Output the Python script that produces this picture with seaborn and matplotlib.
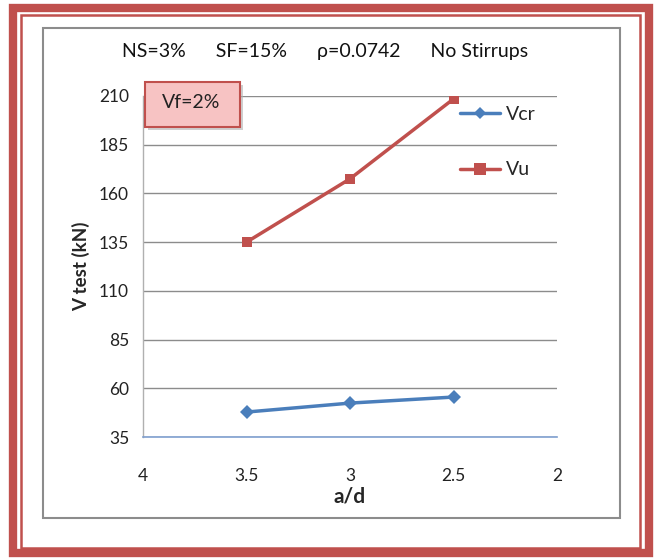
import numpy as np
import pandas as pd
import seaborn as sns
import matplotlib
matplotlib.use("Agg")
import matplotlib.pyplot as plt
from matplotlib.patches import Rectangle
from matplotlib.lines import Line2D

# ---- data ----
a_d = [3.5, 3.0, 2.5]
v_cr = [47.8, 52.4, 55.5]
v_u = [135.0, 167.5, 208.5]
series_names = ["Vcr", "Vu"]
y_ticks = [35, 60, 85, 110, 135, 160, 185, 210]
x_ticks = [4, 3.5, 3, 2.5, 2]
x_tick_labels = ["4", "3.5", "3", "2.5", "2"]
title_text = "NS=3%      SF=15%      \u03c1=0.0742      No Stirrups"
box_text = "Vf=2%"

df = pd.DataFrame({
    "a/d": a_d * 2,
    "V": v_cr + v_u,
    "series": [series_names[0]] * 3 + [series_names[1]] * 3,
})

sns.set_theme(style="white")
plt.rcParams["font.family"] = ["Lato", "DejaVu Sans"]

W, H = 657, 558
fig = plt.figure(figsize=(W / 100, H / 100), dpi=100)

def fx(px):
    return px / W

def fy(py):
    return 1 - py / H

red = "#C0504D"
blue = "#4A7EBB"

# decorative frames
fig.patches.append(Rectangle((fx(13), fy(553)), fx(649 - 13), (553 - 8) / H,
                             transform=fig.transFigure, fill=False,
                             edgecolor=red, linewidth=6, zorder=0))
fig.patches.append(Rectangle((fx(21), fy(548)), fx(640 - 21), (548 - 15) / H,
                             transform=fig.transFigure, fill=False,
                             edgecolor=red, linewidth=1.8, zorder=0))
fig.patches.append(Rectangle((fx(43), fy(518)), fx(620 - 43), (518 - 28) / H,
                             transform=fig.transFigure, fill=False,
                             edgecolor="#8c8c8c", linewidth=1.5, zorder=0))

ax = fig.add_axes([fx(143), fy(437), fx(557 - 143), (437 - 96) / H])

palette = {series_names[0]: blue, series_names[1]: red}
sns.lineplot(data=df, x="a/d", y="V", hue="series", style="series",
             palette=palette, markers={series_names[0]: "D", series_names[1]: "s"},
             dashes=False, markersize=7, linewidth=2.5, ax=ax, legend=False,
             markeredgewidth=0)

ax.set_xlim(4, 2)
ax.set_ylim(35, 210)
ax.set_xticks(x_ticks)
ax.set_xticklabels(x_tick_labels)
ax.set_yticks(y_ticks)
ax.yaxis.grid(True, color="#8c8c8c", linewidth=1.0)
ax.xaxis.grid(False)
for s in ["top", "right"]:
    ax.spines[s].set_visible(False)
ax.spines["left"].set_color("#b0b0b0")
ax.spines["left"].set_linewidth(1.0)
ax.spines["bottom"].set_color("#7f9fcf")
ax.spines["bottom"].set_linewidth(1.2)
ax.tick_params(axis="both", labelsize=12.5, length=0, colors="#222222")
ax.tick_params(axis="y", pad=10)
ax.tick_params(axis="x", pad=22)
ax.set_xlabel("a/d", fontsize=15, fontweight="bold", labelpad=2)
ax.set_ylabel("V test (kN)", fontsize=13.5, fontweight="bold", labelpad=6)

fig.text(fx(325), fy(52), title_text, ha="center", va="center", fontsize=14,
         color="#111111")

# Vf box with shadow
fig.patches.append(Rectangle((fx(148), fy(130)), fx(95), 45 / H,
                             transform=fig.transFigure, facecolor="#b0b0b0",
                             edgecolor="none", alpha=0.6, zorder=5))
fig.patches.append(Rectangle((fx(145), fy(127)), fx(95), 45 / H,
                             transform=fig.transFigure, facecolor="#f7c3c3",
                             edgecolor=red, linewidth=1.5, zorder=6))
fig.text(fx(191), fy(103), box_text, ha="center", va="center", fontsize=14,
         color="#222222", zorder=7)

handles = [Line2D([], [], color=blue, marker="D", markersize=6, linewidth=2.5,
                  markeredgewidth=0),
           Line2D([], [], color=red, marker="s", markersize=9, linewidth=2.5,
                  markeredgewidth=0)]
leg = ax.legend(handles, series_names, loc="upper left",
                bbox_to_anchor=(fx(442), fy(88)), bbox_transform=fig.transFigure,
                frameon=False, fontsize=14, labelspacing=2.0, handlelength=2.1,
                handletextpad=0.3)

fig.savefig("out.png", dpi=100)
